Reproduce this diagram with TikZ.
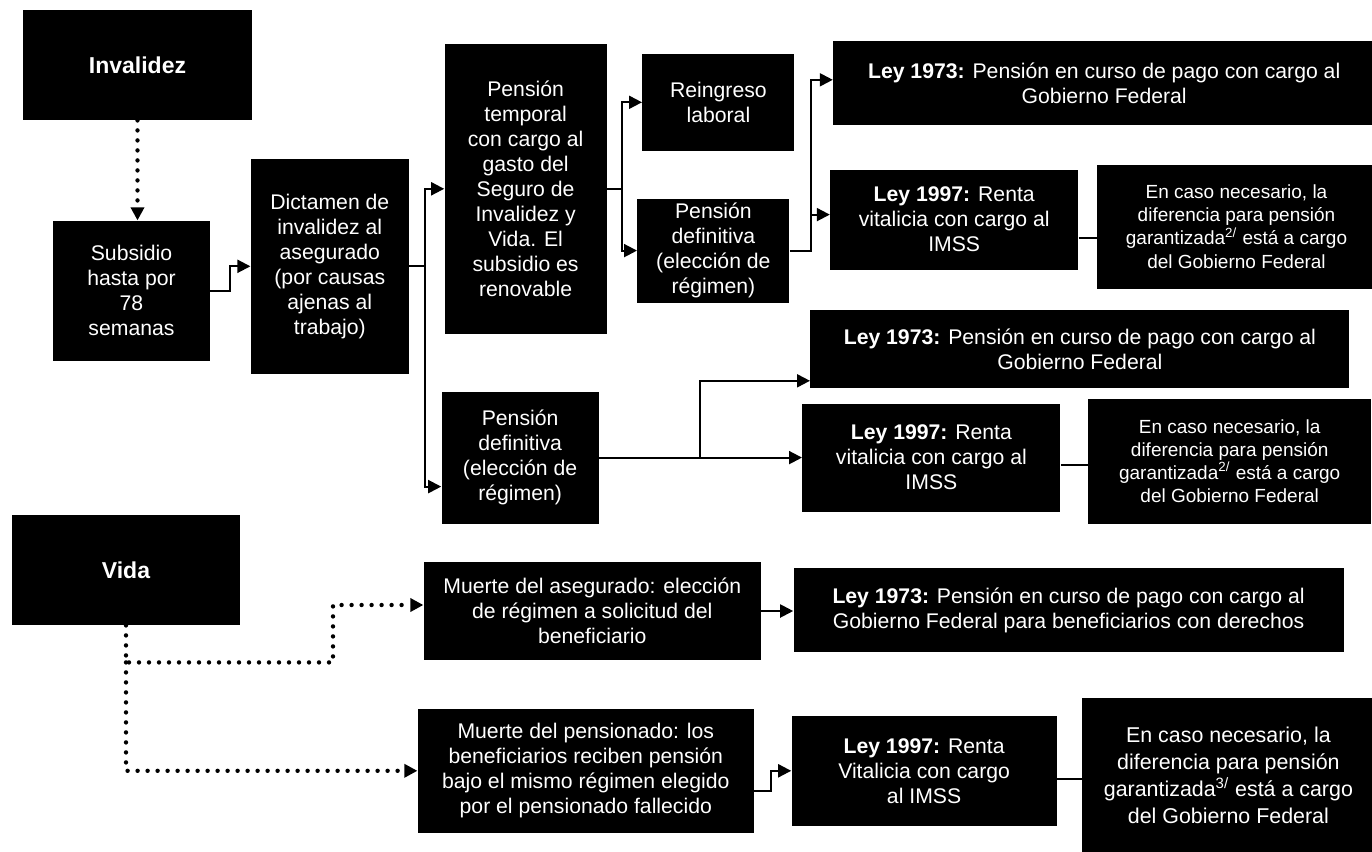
\documentclass[tikz,border=0pt]{standalone}
\usepackage{fontspec}
\setmainfont{Liberation Sans}
\usepackage{tikz}
\usetikzlibrary{arrows.meta,positioning}
\definecolor{ink}{HTML}{000000}
\definecolor{paper}{HTML}{FFFFFF}
\tikzset{
  base/.style={font=\fontsize{10.6}{12.5}\selectfont,align=center,fill=ink,text=paper,inner sep=0pt},
  head/.style={base,font=\fontsize{11.5}{14}\selectfont\bfseries},
  small/.style={base,font=\fontsize{9.5}{11.6}\selectfont},
  large/.style={base,font=\fontsize{10.7}{13.6}\selectfont},
  wh/.style 2 args={minimum width=#1,minimum height=#2},
  flow/.style={-{Triangle[length=6.5pt,width=6.5pt]},line width=1pt,draw=ink},
  link/.style={line width=1pt,draw=ink},
  dotflow/.style={flow,line width=2.2pt,line cap=round,dash pattern=on 0pt off 5pt}
}

\begin{document}
\begin{tikzpicture}[x=0.5pt,y=-0.5pt]
\useasboundingbox (0,0) rectangle (1372,852);
\node[head,wh={114.5pt}{55pt}] (invalidez) at (137.5,65) {Invalidez};
\node[base,wh={78.5pt}{70pt},below=50pt of invalidez,xshift=-3pt] (subsidio) {Subsidio\\hasta por\\78\\semanas};
\node[base,wh={79pt}{107.5pt},right=20pt of subsidio,yshift=12.25pt] (dictamen) {Dictamen de\\invalidez al\\asegurado\\(por causas\\ajenas al\\trabajo)};
\node[base,wh={81pt}{145pt},right=17.5pt of dictamen,yshift=38.75pt] (temporal) {Pensión\\temporal\\con cargo al\\gasto del\\Seguro de\\Invalidez y\\Vida. El\\subsidio es\\renovable};
\node[base,wh={78.5pt}{66pt},below=28.5pt of temporal,xshift=-2.75pt] (defin2) {Pensión\\definitiva\\(elección de\\régimen)};
\node[base,wh={76pt}{48.5pt},right=17.5pt of temporal,yshift=43.25pt] (reingreso) {Reingreso\\laboral};
\node[base,wh={76pt}{52pt},below=23.5pt of reingreso,xshift=-2.5pt] (defin1) {Pensión\\definitiva\\(elección de\\régimen)};
\node[base,wh={271pt}{42pt},right=19pt of reingreso,yshift=9.75pt] (ley73a) {\textbf{Ley 1973:} Pensión en curso de pago con cargo al\\Gobierno Federal};
\node[base,wh={124pt}{50pt},right=20pt of defin1,yshift=15.5pt] (ley97a) {\textbf{Ley 1997:} Renta\\vitalicia con cargo al\\IMSS};
\node[small,wh={139.5pt}{62pt},right=9pt of ley97a,yshift=-3.5pt] (casoa) {En caso necesario, la\\diferencia para pensión\\garantizada\textsuperscript{2/} está a cargo\\del Gobierno Federal};
\node[base,wh={129pt}{54pt},right=101.5pt of defin2] (ley97b) {\textbf{Ley 1997:} Renta\\vitalicia con cargo al\\IMSS};
\node[base,wh={269.5pt}{39pt},above=7.5pt of ley97b,xshift=74.25pt] (ley73b) {\textbf{Ley 1973:} Pensión en curso de pago con cargo al\\Gobierno Federal};
\node[small,wh={141.5pt}{62.5pt},right=13.5pt of ley97b,yshift=-1.75pt] (casob) {En caso necesario, la\\diferencia para pensión\\garantizada\textsuperscript{2/} está a cargo\\del Gobierno Federal};

\node[head,wh={114pt}{55pt}] (vida) at (126,570) {Vida};
\node[base,wh={168.5pt}{49pt},right=91.5pt of vida,yshift=-20.5pt] (asegurado) {Muerte del asegurado: elección\\de régimen a solicitud del\\beneficiario};
\node[base,wh={168pt}{62pt},below=24pt of asegurado,xshift=-3.25pt] (pensionado) {Muerte del pensionado: los\\beneficiarios reciben pensión\\bajo el mismo régimen elegido\\por el pensionado fallecido};
\node[base,wh={275pt}{42pt},right=16pt of asegurado,yshift=0.5pt] (ley73c) {\textbf{Ley 1973:} Pensión en curso de pago con cargo al\\Gobierno Federal para beneficiarios con derechos};
\node[base,wh={132.5pt}{55pt},right=18.5pt of pensionado] (ley97c) {\textbf{Ley 1997:} Renta\\Vitalicia con cargo\\al IMSS};
\node[large,wh={146pt}{77.5pt},right=12.5pt of ley97c,yshift=-2.25pt] (casoc) {En caso necesario, la\\diferencia para pensión\\garantizada\textsuperscript{3/} está a cargo\\del Gobierno Federal};

\draw[dotflow] (invalidez.south) -- (invalidez.south |- subsidio.north);
\draw[flow] (subsidio.east) -- ++(20,0) |- (dictamen.west);
\draw[flow] (dictamen.east) -- ++(16,0) coordinate (d1) |- (temporal.west);
\draw[flow] (d1) |- ([yshift=-14.5pt]defin2.west);
\draw[flow] (temporal.east) -- ++(15,0) coordinate (t1) |- (reingreso.west);
\draw[flow] (t1) |- (defin1.west);
\draw[flow] (defin1.east) -- ++(21,0) coordinate (p1) |- ([yshift=1.5pt]ley73a.west);
\draw[flow] (p1) |- ([yshift=2.5pt]ley97a.west);
\draw[link] ([yshift=-9pt]ley97a.east) -- ([yshift=-9pt]ley97a.east -| casoa.west);
\draw[flow] (defin2.east) -- ++(101,0) coordinate (p2) |- ([yshift=-16pt]ley73b.west);
\draw[flow] (p2) |- (ley97b.west);
\draw[link] ([yshift=-3.5pt]ley97b.east) -- ([yshift=-3.5pt]ley97b.east -| casob.west);
\draw[dotflow] (vida.south) -- ++(0,37) coordinate (v1) -- ++(207,0) |- ([yshift=3pt]asegurado.west);
\draw[dotflow] (v1) |- (pensionado.west);
\draw[flow] (asegurado.east) -- (asegurado.east -| ley73c.west);
\draw[flow] ([yshift=-10pt]pensionado.east) -- ++(17,0) |- (ley97c.west);
\draw[link] ([yshift=-4pt]ley97c.east) -- ([yshift=-4pt]ley97c.east -| casoc.west);
\end{tikzpicture}
\end{document}
